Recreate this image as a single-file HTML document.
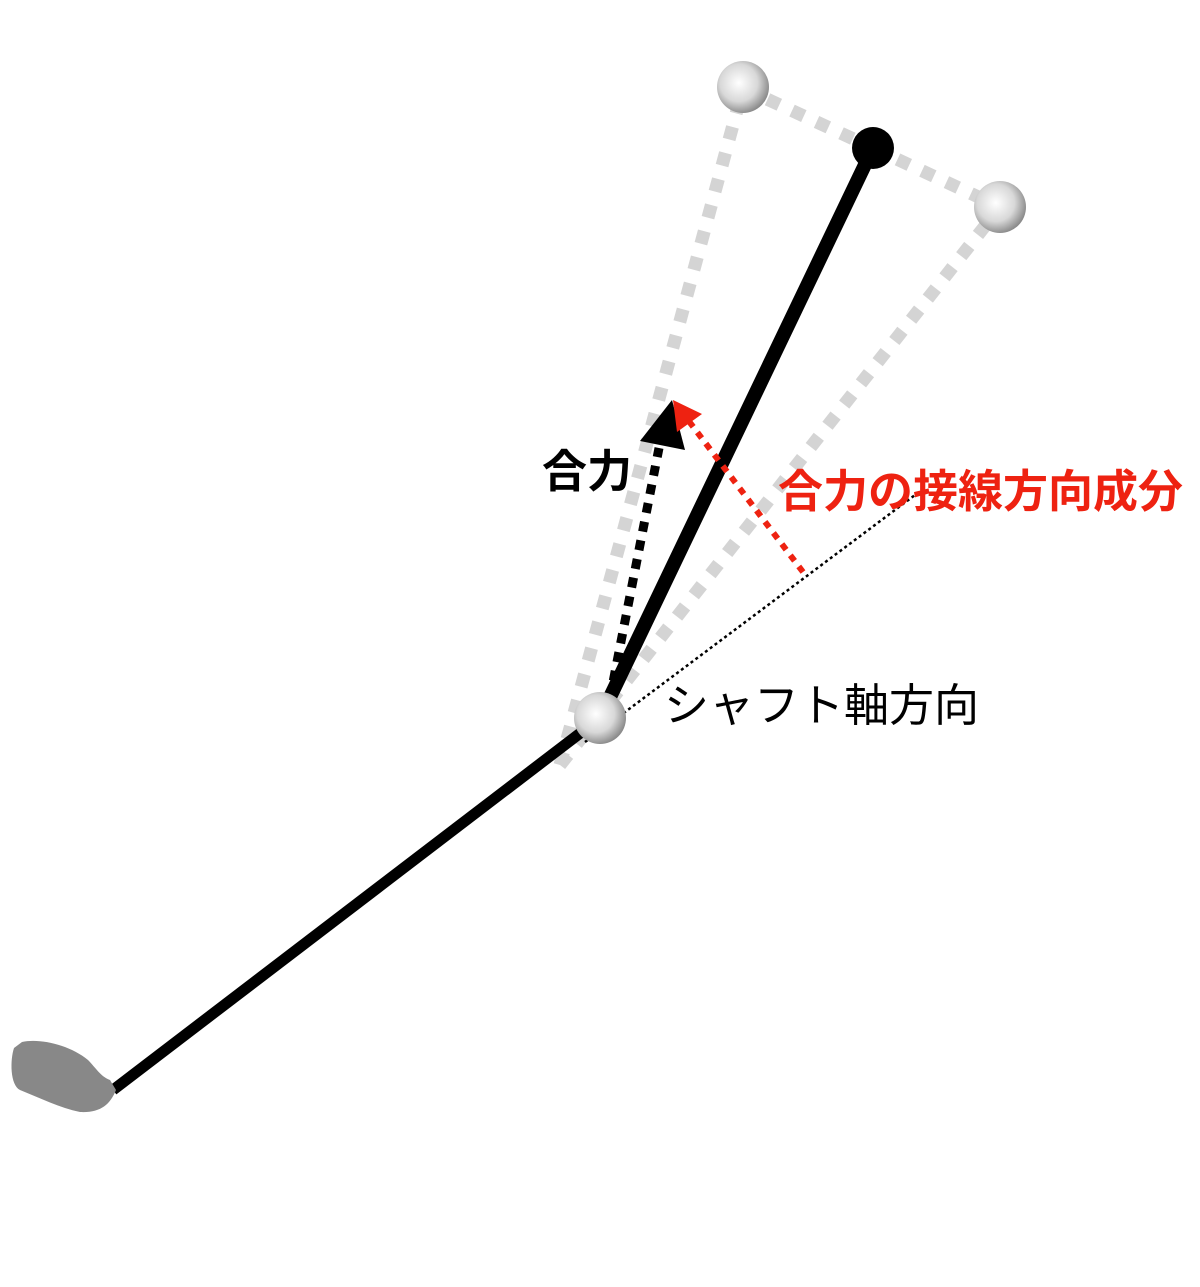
<!DOCTYPE html>
<html><head><meta charset="utf-8"><style>
html,body{margin:0;padding:0;background:#fff;}
svg{display:block;}
</style></head><body>
<svg width="1200" height="1287" viewBox="0 0 1200 1287" xmlns="http://www.w3.org/2000/svg">
<defs>
<radialGradient id="bg" cx="0.42" cy="0.42" r="0.6">
<stop offset="0" stop-color="#ffffff"/>
<stop offset="0.6" stop-color="#d8d8d8"/>
<stop offset="1" stop-color="#8a8a8a"/>
</radialGradient>
</defs>
<g stroke="#d4d4d4" stroke-width="13" stroke-dasharray="13 14" fill="none">
<line x1="560" y1="765" x2="743" y2="88"/>
<line x1="560" y1="765" x2="1000" y2="207"/>
<line x1="743" y1="88" x2="873" y2="148"/>
<line x1="873" y1="148" x2="1000" y2="207"/>
</g>
<line x1="600" y1="718" x2="113" y2="1090" stroke="#000" stroke-width="11"/>
<path d="M22,1042 C40,1038 70,1045 88,1060 C96,1068 100,1076 110,1080 L116,1090 C110,1105 100,1113 80,1112 C60,1108 40,1098 20,1090 C10,1085 10,1060 14,1048 Z" fill="#888"/>
<line x1="600" y1="718" x2="873" y2="148" stroke="#000" stroke-width="14"/>
<circle cx="873" cy="148" r="21" fill="#000"/>
<line x1="585" y1="742" x2="915" y2="495" stroke="#000" stroke-width="2.5" stroke-dasharray="3 3"/>
<line x1="606" y1="718" x2="659" y2="448" stroke="#000" stroke-width="9" stroke-dasharray="10 9"/>
<polygon points="672,400 640,441 685,450" fill="#000"/>
<line x1="803" y1="572" x2="688" y2="420" stroke="#ee2211" stroke-width="6" stroke-dasharray="7 7"/>
<polygon points="673,400 677,432 702,414" fill="#ee2211"/>
<circle cx="600" cy="718" r="26" fill="url(#bg)"/>
<circle cx="743" cy="87" r="26" fill="url(#bg)"/>
<circle cx="1000" cy="207" r="26" fill="url(#bg)"/>
<text x="542" y="487" font-family="'Liberation Sans','Noto Sans CJK JP',sans-serif" font-size="45" font-weight="bold" fill="#000">合力</text>
<text x="778" y="507" font-family="'Liberation Sans','Noto Sans CJK JP',sans-serif" font-size="45" font-weight="bold" fill="#ee2211">合力の接線方向成分</text>
<text x="664" y="721" font-family="'Liberation Sans','Noto Sans CJK JP',sans-serif" font-size="45" fill="#000">シャフト軸方向</text>
</svg>
</body></html>
